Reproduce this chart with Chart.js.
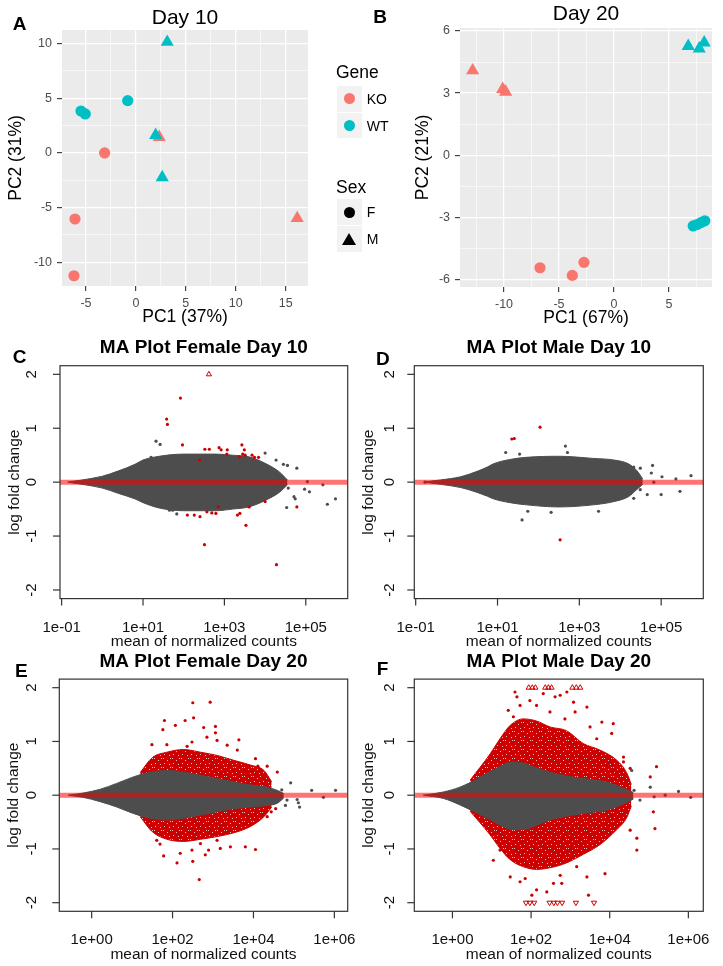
<!DOCTYPE html>
<html><head><meta charset="utf-8">
<script src="https://cdn.jsdelivr.net/npm/chart.js@4.4.1/dist/chart.umd.min.js"></script>
<style>
html,body{margin:0;padding:0;background:#fff;}
#wrap{position:relative;width:723px;height:966px;overflow:hidden;background:#fff;font-family:"Liberation Sans",Arial,Helvetica,sans-serif;}
#wrap canvas{position:absolute;}
.lg{position:absolute;white-space:nowrap;color:#000;}
.key{position:absolute;width:25px;height:25.7px;background:#f2f2f2;}
.dot{position:absolute;width:11px;height:11px;border-radius:50%;left:7px;top:7.3px;}
.tri{position:absolute;width:0;height:0;border-left:7px solid transparent;border-right:7px solid transparent;border-bottom:12px solid #000;left:5.5px;top:6.5px;}
</style></head>
<body><div id="wrap">
<canvas id="cA" width="322" height="330" style="left:0;top:0"></canvas>
<canvas id="cB" width="363" height="330" style="left:360px;top:0"></canvas>
<canvas id="cC" width="360" height="330" style="left:0;top:330px"></canvas>
<canvas id="cD" width="363" height="330" style="left:360px;top:330px"></canvas>
<canvas id="cE" width="360" height="326" style="left:0;top:640px"></canvas>
<canvas id="cF" width="363" height="326" style="left:360px;top:640px"></canvas>
<div id="legend"></div>
</div>
<script>
const FONT = '"Liberation Sans", Arial, Helvetica, sans-serif';
const KO_COL = '#F8766D', WT_COL = '#00BFC4';
const GREY = '#4d4d4d', RED = '#cc0000';

// ---------- Panel A: PCA Day 10 ----------
const aXTicks = [-5, 0, 5, 10, 15];
const aXLabels = ['-5', '0', '5', '10', '15'];
const aYTicks = [-10, -5, 0, 5, 10];
const aYLabels = ['-10', '-5', '0', '5', '10'];
const aKOcircX = [-3.13, -6.10, -6.20];
const aKOcircY = [0.00, -6.04, -11.23];
const aKOtriX = [2.34, 16.16];
const aKOtriY = [1.45, -5.97];
const aWTcircX = [-5.50, -5.07, -0.82];
const aWTcircY = [3.84, 3.57, 4.79];
const aWTtriX = [3.14, 1.98, 2.64];
const aWTtriY = [10.15, 1.63, -2.24];

// ---------- Panel B: PCA Day 20 ----------
const bXTicks = [-10, -5, 0, 5];
const bXLabels = ['-10', '-5', '0', '5'];
const bYTicks = [-6, -3, 0, 3, 6];
const bYLabels = ['-6', '-3', '0', '3', '6'];
const bKOcircX = [-6.73, -3.79, -2.73];
const bKOcircY = [-5.44, -5.81, -5.18];
const bKOtriX = [-12.85, -10.12, -9.85];
const bKOtriY = [4.09, 3.19, 3.06];
const bWTcircX = [7.20, 7.55, 7.90, 8.25];
const bWTcircY = [-3.42, -3.35, -3.26, -3.17];
const bWTtriX = [6.75, 7.75, 8.20];
const bWTtriY = [5.27, 5.15, 5.44];

// ---------- Legend ----------
const geneLevels = ['KO', 'WT'];
const sexLevels = ['F', 'M'];

// ---------- MA plots (x = log10 mean of normalized counts, y = log fold change) ----------
const maYTicks = [-2, -1, 0, 1, 2];
const maYLabels = ['-2', '-1', '0', '1', '2'];
const day10XTicks = [-1, 1, 3, 5];
const day10XLabels = ['1e-01', '1e+01', '1e+03', '1e+05'];
const day20XTicks = [0, 2, 4, 6];
const day20XLabels = ['1e+00', '1e+02', '1e+04', '1e+06'];

// C: Female Day 10
const cCloudX  = [-0.85, -0.5, 0, 0.4, 0.8, 1.0, 1.4, 2.0, 2.8, 3.2, 3.6, 4.0, 4.35, 4.55];
const cCloudUp = [0.0, 0.04, 0.11, 0.21, 0.33, 0.41, 0.48, 0.52, 0.52, 0.5, 0.47, 0.35, 0.19, 0.04];
const cCloudLo = [0.0, -0.04, -0.11, -0.21, -0.31, -0.38, -0.48, -0.53, -0.53, -0.5, -0.46, -0.34, -0.19, -0.05];
const cGreyX = [1.32, 1.42, 4.0, 4.27, 4.45, 4.55, 4.78, 5.04, 4.97, 5.09, 5.42, 5.53, 5.73, 4.53, 4.71, 4.74, 4.57, 4.24, 1.83, 1.65, 1.73, 1.2];
const cGreyY = [0.76, 0.7, 0.54, 0.41, 0.33, 0.31, 0.26, 0.01, -0.13, -0.18, -0.05, -0.41, -0.31, -0.47, -0.27, -0.31, -0.11, -0.07, -0.59, -0.52, -0.52, 0.46];
const cRedX = [1.92, 1.58, 1.6, 1.97, 2.52, 2.63, 2.87, 2.92, 3.07, 3.06, 3.43, 3.49, 3.45, 3.51, 3.37, 3.68, 3.74, 3.84,
               2.09, 2.26, 2.4, 2.57, 2.69, 2.79, 2.85, 3.32, 3.38, 3.61, 3.53, 4.0, 4.78, 2.51, 4.28, 2.39];
const cRedY = [1.56, 1.17, 1.07, 0.69, 0.61, 0.61, 0.64, 0.6, 0.6, 0.52, 0.69, 0.6, 0.52, 0.5, 0.47, 0.5, 0.46, 0.46,
               -0.61, -0.61, -0.64, -0.55, -0.57, -0.58, -0.46, -0.61, -0.58, -0.46, -0.8, -0.36, -0.46, -1.16, -1.53, 0.41];
const cTriUpX = [2.62];
const cTriUpY = [2.0];

// D: Male Day 10
const dCloudX  = [-0.8, -0.4, 0.1, 0.5, 0.75, 0.9, 1.3, 1.7, 2.5, 3.35, 3.85, 4.2, 4.4, 4.55];
const dCloudUp = [0.0, 0.04, 0.1, 0.2, 0.28, 0.34, 0.42, 0.46, 0.48, 0.44, 0.41, 0.34, 0.22, 0.06];
const dCloudLo = [0.0, -0.04, -0.1, -0.19, -0.26, -0.31, -0.38, -0.42, -0.46, -0.42, -0.36, -0.27, -0.14, -0.04];
const dGreyX = [1.2, 1.54, 2.66, 2.71, 4.33, 4.49, 4.79, 4.76, 5.02, 5.36, 5.73, 5.46, 5.0, 4.66, 4.49, 4.82, 1.6, 1.74, 2.31, 3.47, 4.33, -0.77, -0.57];
const dGreyY = [0.55, 0.52, 0.67, 0.55, 0.28, 0.26, 0.31, 0.17, 0.1, 0.06, 0.12, -0.17, -0.23, -0.23, -0.14, 0.0, -0.7, -0.54, -0.56, -0.54, -0.3, 0.0, 0.0];
const dRedX = [1.35, 1.41, 2.04, 2.53];
const dRedY = [0.8, 0.81, 1.02, -1.07];

// E: Female Day 20
const eCloudX  = [-0.58, -0.21, 0.21, 0.62, 1.03, 1.45, 1.86, 2.27, 2.69, 3.1, 3.51, 3.93, 4.34, 4.59, 4.75];
const eCloudUp = [0.0, 0.04, 0.11, 0.22, 0.34, 0.43, 0.46, 0.43, 0.37, 0.31, 0.25, 0.19, 0.15, 0.09, 0.03];
const eCloudLo = [0.0, -0.04, -0.12, -0.22, -0.34, -0.43, -0.46, -0.43, -0.37, -0.31, -0.25, -0.22, -0.19, -0.15, -0.05];
const eRedBandX  = [1.2, 1.5, 1.86, 2.27, 2.69, 3.1, 3.51, 3.93, 4.26, 4.45];
const eRedBandUp = [0.42, 0.70, 0.80, 0.85, 0.80, 0.74, 0.65, 0.56, 0.46, 0.25];
const eRedBandLo = [-0.40, -0.68, -0.82, -0.86, -0.82, -0.77, -0.70, -0.58, -0.40, -0.22];
const eGreyX = [4.92, 5.08, 5.14, 5.11, 5.44, 5.73, 6.03, 4.79, 4.83, 4.7];
const eGreyY = [0.23, -0.08, -0.22, -0.14, 0.09, -0.04, 0.09, -0.19, -0.09, 0.1];
const eRedX = [2.5, 2.93, 1.8, 2.07, 2.31, 2.52, 1.76, 2.77, 3.06, 3.06, 2.85, 2.48, 1.49, 1.86, 2.36, 3.1, 3.35, 3.6, 3.64, 4.05, 4.11, 4.34, 4.59, 4.22, 3.8,
               1.78, 2.19, 2.48, 2.5, 2.11, 2.66, 2.81, 2.89, 3.18, 3.43, 3.8, 4.05, 1.61, 1.69, 2.69, 3.1, 4.34, 4.55, 4.44];
const eRedY = [1.72, 1.73, 1.39, 1.3, 1.39, 1.44, 1.22, 1.26, 1.28, 1.16, 1.08, 0.99, 0.94, 0.94, 0.91, 1.02, 0.93, 0.84, 1.03, 0.68, 0.54, 0.54, 0.43, 0.33, 0.41,
               -1.13, -1.08, -1.02, -1.23, -1.26, -1.57, -1.11, -1.02, -0.99, -0.96, -0.96, -1.01, -0.84, -0.91, -0.9, -0.84, -0.4, -0.25, -0.31];

// F: Male Day 20
const fCloudX  = [-0.74, -0.23, 0.19, 0.62, 0.95, 1.25, 1.5, 1.8, 2.1, 2.48, 2.9, 3.33, 3.9, 4.26, 4.45, 4.6];
const fCloudUp = [0.0, 0.06, 0.15, 0.3, 0.44, 0.55, 0.62, 0.6, 0.52, 0.43, 0.36, 0.31, 0.25, 0.16, 0.1, 0.05];
const fCloudLo = [0.0, -0.06, -0.18, -0.33, -0.45, -0.57, -0.64, -0.64, -0.57, -0.46, -0.39, -0.34, -0.28, -0.19, -0.13, -0.07];
const fRedBandX  = [0.45, 0.96, 1.21, 1.47, 1.8, 2.14, 2.48, 2.9, 3.33, 3.75, 4.18, 4.43, 4.55];
const fRedBandUp = [0.28, 0.77, 1.05, 1.3, 1.42, 1.38, 1.27, 1.2, 0.96, 0.84, 0.65, 0.42, 0.2];
const fRedBandLo = [-0.3, -0.74, -0.99, -1.2, -1.33, -1.38, -1.35, -1.26, -1.1, -0.92, -0.64, -0.42, -0.2];
const fGreyX = [4.56, 5.03, 5.13, 5.41, 5.75, 6.06, 4.62, 4.56, 4.77];
const fGreyY = [0.46, 0.15, -0.03, 0.0, 0.07, -0.04, 0.09, -0.06, -0.09];
const fRedX = [1.59, 2.31, 2.61, 2.74, 2.91, 3.08, 3.42, 3.12, 3.8, 4.09, 4.05, 1.42, 1.55, 1.97, 2.14, 2.48, 2.86, 3.5, 3.67, 4.35, 4.35, 4.52, 5.19, 5.03, 1.64, 1.72,
               1.47, 1.72, 1.85, 2.02, 2.14, 2.4, 2.57, 2.78, 2.74, 3.46, 3.42, 3.88, 4.69, 4.52, 4.69, 5.15, 5.11, 1.97, 3.16, 1.04, 1.21];
const fRedY = [1.92, 1.89, 1.83, 1.86, 1.92, 1.73, 1.64, 1.55, 1.36, 1.33, 1.15, 1.58, 1.46, 1.76, 1.67, 1.55, 1.42, 1.27, 1.05, 0.71, 0.62, 0.5, 0.53, 0.34, 1.83, 1.67,
               -1.52, -1.61, -1.55, -1.86, -1.76, -1.8, -1.64, -1.64, -1.49, -1.86, -1.52, -1.46, -1.02, -0.65, -0.8, -0.62, -0.31, -1.33, -1.33, -1.21, -1.02];
const fTriUpX = [1.94, 2.03, 2.11, 2.36, 2.44, 2.52, 3.05, 3.15, 3.25];
const fTriUpY = [2, 2, 2, 2, 2, 2, 2, 2, 2];
const fTriDnX = [1.87, 1.97, 2.08, 2.47, 2.58, 2.67, 2.79, 3.14, 3.6];
const fTriDnY = [-2, -2, -2, -2, -2, -2, -2, -2, -2];

// ================= builders =================
const toPts = (xs, ys) => xs.map((x, i) => ({x: x, y: ys[i]}));

// speckled red texture for the dense band of significant genes
function speckle() {
  const cv = document.createElement('canvas');
  cv.width = 9; cv.height = 9;
  const g = cv.getContext('2d');
  g.fillStyle = RED; g.fillRect(0, 0, 9, 9);
  g.fillStyle = 'rgba(255,255,255,0.75)';
  [[1, 1], [5, 3], [2, 6], [7, 7], [8, 1]].forEach(p => g.fillRect(p[0], p[1], 1, 1));
  return g.createPattern(cv, 'repeat');
}
const RED_TEX = speckle();

function withMinor(major, min, max) {
  const step = major[1] - major[0];
  const out = major.map(v => ({value: v}));
  for (let v = major[0] - step / 2; v <= major[major.length - 1] + step / 2 + 1e-9; v += step) {
    if (v >= min && v <= max) out.push({value: v, minor: true});
  }
  return out.sort((a, b) => a.value - b.value);
}

function ggPanel(id, c) {
  const gridOpts = {
    color: '#ffffff',
    lineWidth: ctx => (ctx.tick && ctx.tick.minor) ? 0.6 : 1.25,
    drawTicks: true, tickLength: 5, tickWidth: 1.1,
    tickColor: ctx => (ctx.tick && ctx.tick.minor) ? 'rgba(0,0,0,0)' : '#333333'
  };
  const lab = (major, labels) => (v, i, ticks) => {
    const t = ticks[i];
    if (!t || t.minor) return '';
    const k = major.indexOf(t.value);
    return k >= 0 ? labels[k] : '';
  };
  const tickFont = {family: FONT, size: 12.5};
  const titleFont = {family: FONT, size: 17.5};
  const ds = c.series.map(s => ({
    type: 'scatter', data: toPts(s.x, s.y), pointStyle: s.style,
    pointRadius: s.style === 'triangle' ? 7.6 : 5.6, pointHoverRadius: s.style === 'triangle' ? 7.6 : 5.6,
    backgroundColor: s.color, borderColor: s.color, borderWidth: 0
  }));
  new Chart(document.getElementById(id), {
    type: 'scatter',
    data: {datasets: ds},
    options: {
      responsive: false, animation: false, events: [],
      layout: {padding: c.pad},
      plugins: {legend: {display: false}, tooltip: {enabled: false}},
      scales: {
        x: {
          type: 'linear', position: 'bottom', min: c.xMin, max: c.xMax, bounds: 'data',
          afterBuildTicks: s => { s.ticks = withMinor(c.xTicks, c.xMin, c.xMax); },
          afterFit: s => { s.height = c.xAxisH; },
          grid: gridOpts, border: {display: false},
          ticks: {autoSkip: false, maxRotation: 0, minRotation: 0, padding: 5, color: '#4d4d4d', font: tickFont, callback: lab(c.xTicks, c.xLabels)},
          title: {display: true, text: c.xTitle, color: '#000', font: titleFont, padding: {top: 0, bottom: c.xTitlePad}}
        },
        y: {
          type: 'linear', position: 'left', min: c.yMin, max: c.yMax, bounds: 'data',
          afterBuildTicks: s => { s.ticks = withMinor(c.yTicks, c.yMin, c.yMax); },
          afterFit: s => { s.width = c.yAxisW; },
          grid: gridOpts, border: {display: false},
          ticks: {autoSkip: false, padding: 5, color: '#4d4d4d', font: tickFont, callback: lab(c.yTicks, c.yLabels)},
          title: {display: true, text: c.yTitle, color: '#000', font: titleFont, padding: {top: c.yTitlePad, bottom: 0}}
        }
      }
    },
    plugins: [{
      id: 'ggDecor',
      beforeDraw(ch) {
        const a = ch.chartArea, ctx = ch.ctx;
        ctx.save(); ctx.fillStyle = '#ebebeb';
        ctx.fillRect(a.left, a.top, a.right - a.left, a.bottom - a.top);
        ctx.restore();
      },
      afterDraw(ch) {
        const a = ch.chartArea, ctx = ch.ctx;
        ctx.save();
        ctx.fillStyle = '#000';
        ctx.textAlign = 'center'; ctx.textBaseline = 'alphabetic';
        ctx.font = '21px ' + FONT;
        ctx.fillText(c.title, (a.left + a.right) / 2, c.titleY);
        ctx.textAlign = 'left';
        ctx.font = 'bold 19px ' + FONT;
        ctx.fillText(c.letter, c.letterX, c.letterY);
        ctx.restore();
      }
    }]
  });
}

function maPanel(id, c) {
  // an envelope: upper edge filled down to the lower edge (dataset index + 1)
  const edge = (xs, ys, color, fillColor, fill, order) => ({
    type: 'line', data: toPts(xs, ys), borderColor: color, backgroundColor: fillColor, borderWidth: 1,
    pointRadius: 0, pointHoverRadius: 0, fill: fill, cubicInterpolationMode: 'monotone', order: order
  });
  const dots = (xs, ys, color, order) => ({
    type: 'scatter', data: toPts(xs, ys), pointStyle: 'circle', pointRadius: 1.6, pointHoverRadius: 1.6,
    backgroundColor: color, borderColor: color, borderWidth: 0, order: order
  });
  const tris = (xs, ys, rot, order) => ({
    type: 'scatter', data: toPts(xs, ys), pointStyle: 'triangle', rotation: rot, pointRadius: 3, pointHoverRadius: 3,
    backgroundColor: 'rgba(0,0,0,0)', borderColor: RED, borderWidth: 1, order: order
  });
  const ds = [];
  if (c.bandX) {
    ds.push(edge(c.bandX, c.bandUp, RED, RED_TEX, '+1', 10));
    ds.push(edge(c.bandX, c.bandLo, RED, RED_TEX, false, 10));
  }
  ds.push(edge(c.cloudX, c.cloudUp, GREY, GREY, '+1', 9));
  ds.push(edge(c.cloudX, c.cloudLo, GREY, GREY, false, 9));
  ds.push(dots(c.greyX, c.greyY, GREY, 8));
  ds.push(dots(c.redX, c.redY, RED, 7));
  if (c.triUpX) ds.push(tris(c.triUpX, c.triUpY, 0, 6));
  if (c.triDnX) ds.push(tris(c.triDnX, c.triDnY, 180, 6));
  ds.push({type: 'line', data: [{x: c.xMin, y: 0}, {x: c.xMax, y: 0}], borderColor: 'rgba(255,0,0,0.55)',
           borderWidth: 5, pointRadius: 0, pointHoverRadius: 0, fill: false, order: 0});
  new Chart(document.getElementById(id), {
    type: 'scatter',
    data: {datasets: ds},
    options: {
      responsive: false, animation: false, events: [],
      layout: {padding: c.pad},
      plugins: {legend: {display: false}, tooltip: {enabled: false}, filler: {drawTime: 'beforeDatasetsDraw'}},
      scales: {
        x: {type: 'linear', min: c.xMin, max: c.xMax, display: false},
        y: {type: 'linear', min: -2.16, max: 2.16, display: false}
      }
    },
    plugins: [{
      id: 'rAxes',
      afterDraw(ch) {
        const a = ch.chartArea, ctx = ch.ctx, x = ch.scales.x, y = ch.scales.y;
        ctx.save();
        ctx.strokeStyle = '#333'; ctx.lineWidth = 1.2;
        ctx.strokeRect(a.left, a.top, a.right - a.left, a.bottom - a.top);
        ctx.fillStyle = '#111';
        ctx.font = '15px ' + FONT;
        ctx.textAlign = 'center'; ctx.textBaseline = 'middle';
        c.xTicks.forEach((v, i) => {
          const px = x.getPixelForValue(v);
          ctx.beginPath(); ctx.moveTo(px, a.bottom); ctx.lineTo(px, a.bottom + 7); ctx.stroke();
          ctx.fillText(c.xLabels[i], px, a.bottom + 29);
        });
        maYTicks.forEach((v, i) => {
          const py = y.getPixelForValue(v);
          ctx.beginPath(); ctx.moveTo(a.left - 7, py); ctx.lineTo(a.left, py); ctx.stroke();
          ctx.save(); ctx.translate(a.left - c.yLabOff, py); ctx.rotate(-Math.PI / 2);
          ctx.fillText(maYLabels[i], 0, 0); ctx.restore();
        });
        ctx.font = '15.5px ' + FONT;
        ctx.fillText('mean of normalized counts', (a.left + a.right) / 2, a.bottom + 43.5);
        ctx.save(); ctx.translate(a.left - 45.5, (a.top + a.bottom) / 2); ctx.rotate(-Math.PI / 2);
        ctx.fillText('log fold change', 0, 0); ctx.restore();
        ctx.fillStyle = '#000';
        ctx.textBaseline = 'alphabetic';
        ctx.font = 'bold 19px ' + FONT;
        ctx.fillText(c.title, (a.left + a.right) / 2, a.top - 12.5);
        ctx.textAlign = 'left';
        ctx.fillText(c.letter, c.letterX, c.letterY);
        ctx.restore();
      }
    }]
  });
}

// ================= build charts =================
ggPanel('cA', {
  pad: {left: 0, top: 30, right: 14, bottom: 0}, yAxisW: 62, xAxisH: 44,
  xMin: -7.40, xMax: 17.24, yMin: -12.17, yMax: 11.25,
  xTicks: aXTicks, xLabels: aXLabels, yTicks: aYTicks, yLabels: aYLabels,
  xTitle: 'PC1 (37%)', yTitle: 'PC2 (31%)', xTitlePad: 2, yTitlePad: 5.3,
  title: 'Day 10', titleY: 24, letter: 'A', letterX: 12.7, letterY: 30,
  series: [
    {x: aWTtriX, y: aWTtriY, color: WT_COL, style: 'triangle'},
    {x: aWTcircX, y: aWTcircY, color: WT_COL, style: 'circle'},
    {x: aKOtriX, y: aKOtriY, color: KO_COL, style: 'triangle'},
    {x: aKOcircX, y: aKOcircY, color: KO_COL, style: 'circle'}
  ]
});
ggPanel('cB', {
  pad: {left: 0, top: 28, right: 11, bottom: 0}, yAxisW: 100, xAxisH: 43,
  xMin: -14.0, xMax: 8.91, yMin: -6.37, yMax: 6.145,
  xTicks: bXTicks, xLabels: bXLabels, yTicks: bYTicks, yLabels: bYLabels,
  xTitle: 'PC1 (67%)', yTitle: 'PC2 (21%)', xTitlePad: 1.5, yTitlePad: 52.5,
  title: 'Day 20', titleY: 19.5, letter: 'B', letterX: 13.3, letterY: 23.3,
  series: [
    {x: bWTtriX, y: bWTtriY, color: WT_COL, style: 'triangle'},
    {x: bWTcircX, y: bWTcircY, color: WT_COL, style: 'circle'},
    {x: bKOtriX, y: bKOtriY, color: KO_COL, style: 'triangle'},
    {x: bKOcircX, y: bKOcircY, color: KO_COL, style: 'circle'}
  ]
});
maPanel('cC', {
  pad: {left: 60, top: 35.7, right: 12.3, bottom: 61.4}, xMin: -1.04, xMax: 6.03,
  xTicks: day10XTicks, xLabels: day10XLabels, yLabOff: 28,
  title: 'MA Plot Female Day 10', letter: 'C', letterX: 12.7, letterY: 33.3,
  cloudX: cCloudX, cloudUp: cCloudUp, cloudLo: cCloudLo,
  greyX: cGreyX, greyY: cGreyY, redX: cRedX, redY: cRedY, triUpX: cTriUpX, triUpY: cTriUpY
});
maPanel('cD', {
  pad: {left: 54.3, top: 35.7, right: 19.7, bottom: 61.4}, xMin: -1.034, xMax: 6.03,
  xTicks: day10XTicks, xLabels: day10XLabels, yLabOff: 24,
  title: 'MA Plot Male Day 10', letter: 'D', letterX: 16, letterY: 35,
  cloudX: dCloudX, cloudUp: dCloudUp, cloudLo: dCloudLo,
  greyX: dGreyX, greyY: dGreyY, redX: dRedX, redY: dRedY
});
maPanel('cE', {
  pad: {left: 59.3, top: 39.1, right: 12.3, bottom: 54.7}, xMin: -0.80, xMax: 6.33,
  xTicks: day20XTicks, xLabels: day20XLabels, yLabOff: 27,
  title: 'MA Plot Female Day 20', letter: 'E', letterX: 15, letterY: 36.7,
  bandX: eRedBandX, bandUp: eRedBandUp, bandLo: eRedBandLo,
  cloudX: eCloudX, cloudUp: eCloudUp, cloudLo: eCloudLo,
  greyX: eGreyX, greyY: eGreyY, redX: eRedX, redY: eRedY
});
maPanel('cF', {
  pad: {left: 54.3, top: 39.1, right: 19.7, bottom: 54.7}, xMin: -0.97, xMax: 6.38,
  xTicks: day20XTicks, xLabels: day20XLabels, yLabOff: 24.3,
  title: 'MA Plot Male Day 20', letter: 'F', letterX: 16.7, letterY: 35,
  bandX: fRedBandX, bandUp: fRedBandUp, bandLo: fRedBandLo,
  cloudX: fCloudX, cloudUp: fCloudUp, cloudLo: fCloudLo,
  greyX: fGreyX, greyY: fGreyY, redX: fRedX, redY: fRedY,
  triUpX: fTriUpX, triUpY: fTriUpY, triDnX: fTriDnX, triDnY: fTriDnY
});

// ================= legend (ggplot style) =================
(function () {
  const L = document.getElementById('legend');
  const add = (html) => { L.insertAdjacentHTML('beforeend', html); };
  add('<div class="lg" style="left:336px;top:61.5px;font-size:17.5px;line-height:20px;">Gene</div>');
  const geneCols = [KO_COL, WT_COL];
  const geneTop = [86, 112.8];
  geneLevels.forEach((g, i) => {
    add('<div class="key" style="left:336.7px;top:' + geneTop[i] + 'px;"><span class="dot" style="background:' + geneCols[i] + '"></span></div>');
    add('<div class="lg" style="left:366.7px;top:' + (geneTop[i] + 5) + 'px;font-size:14px;line-height:16px;">' + g + '</div>');
  });
  add('<div class="lg" style="left:336px;top:176.5px;font-size:17.5px;line-height:20px;">Sex</div>');
  const sexTop = [199.3, 226.3];
  sexLevels.forEach((s, i) => {
    const sym = i === 0 ? '<span class="dot" style="background:#000"></span>' : '<span class="tri"></span>';
    add('<div class="key" style="left:336.7px;top:' + sexTop[i] + 'px;">' + sym + '</div>');
    add('<div class="lg" style="left:366.7px;top:' + (sexTop[i] + 5) + 'px;font-size:14px;line-height:16px;">' + s + '</div>');
  });
})();
</script>
</body></html>
